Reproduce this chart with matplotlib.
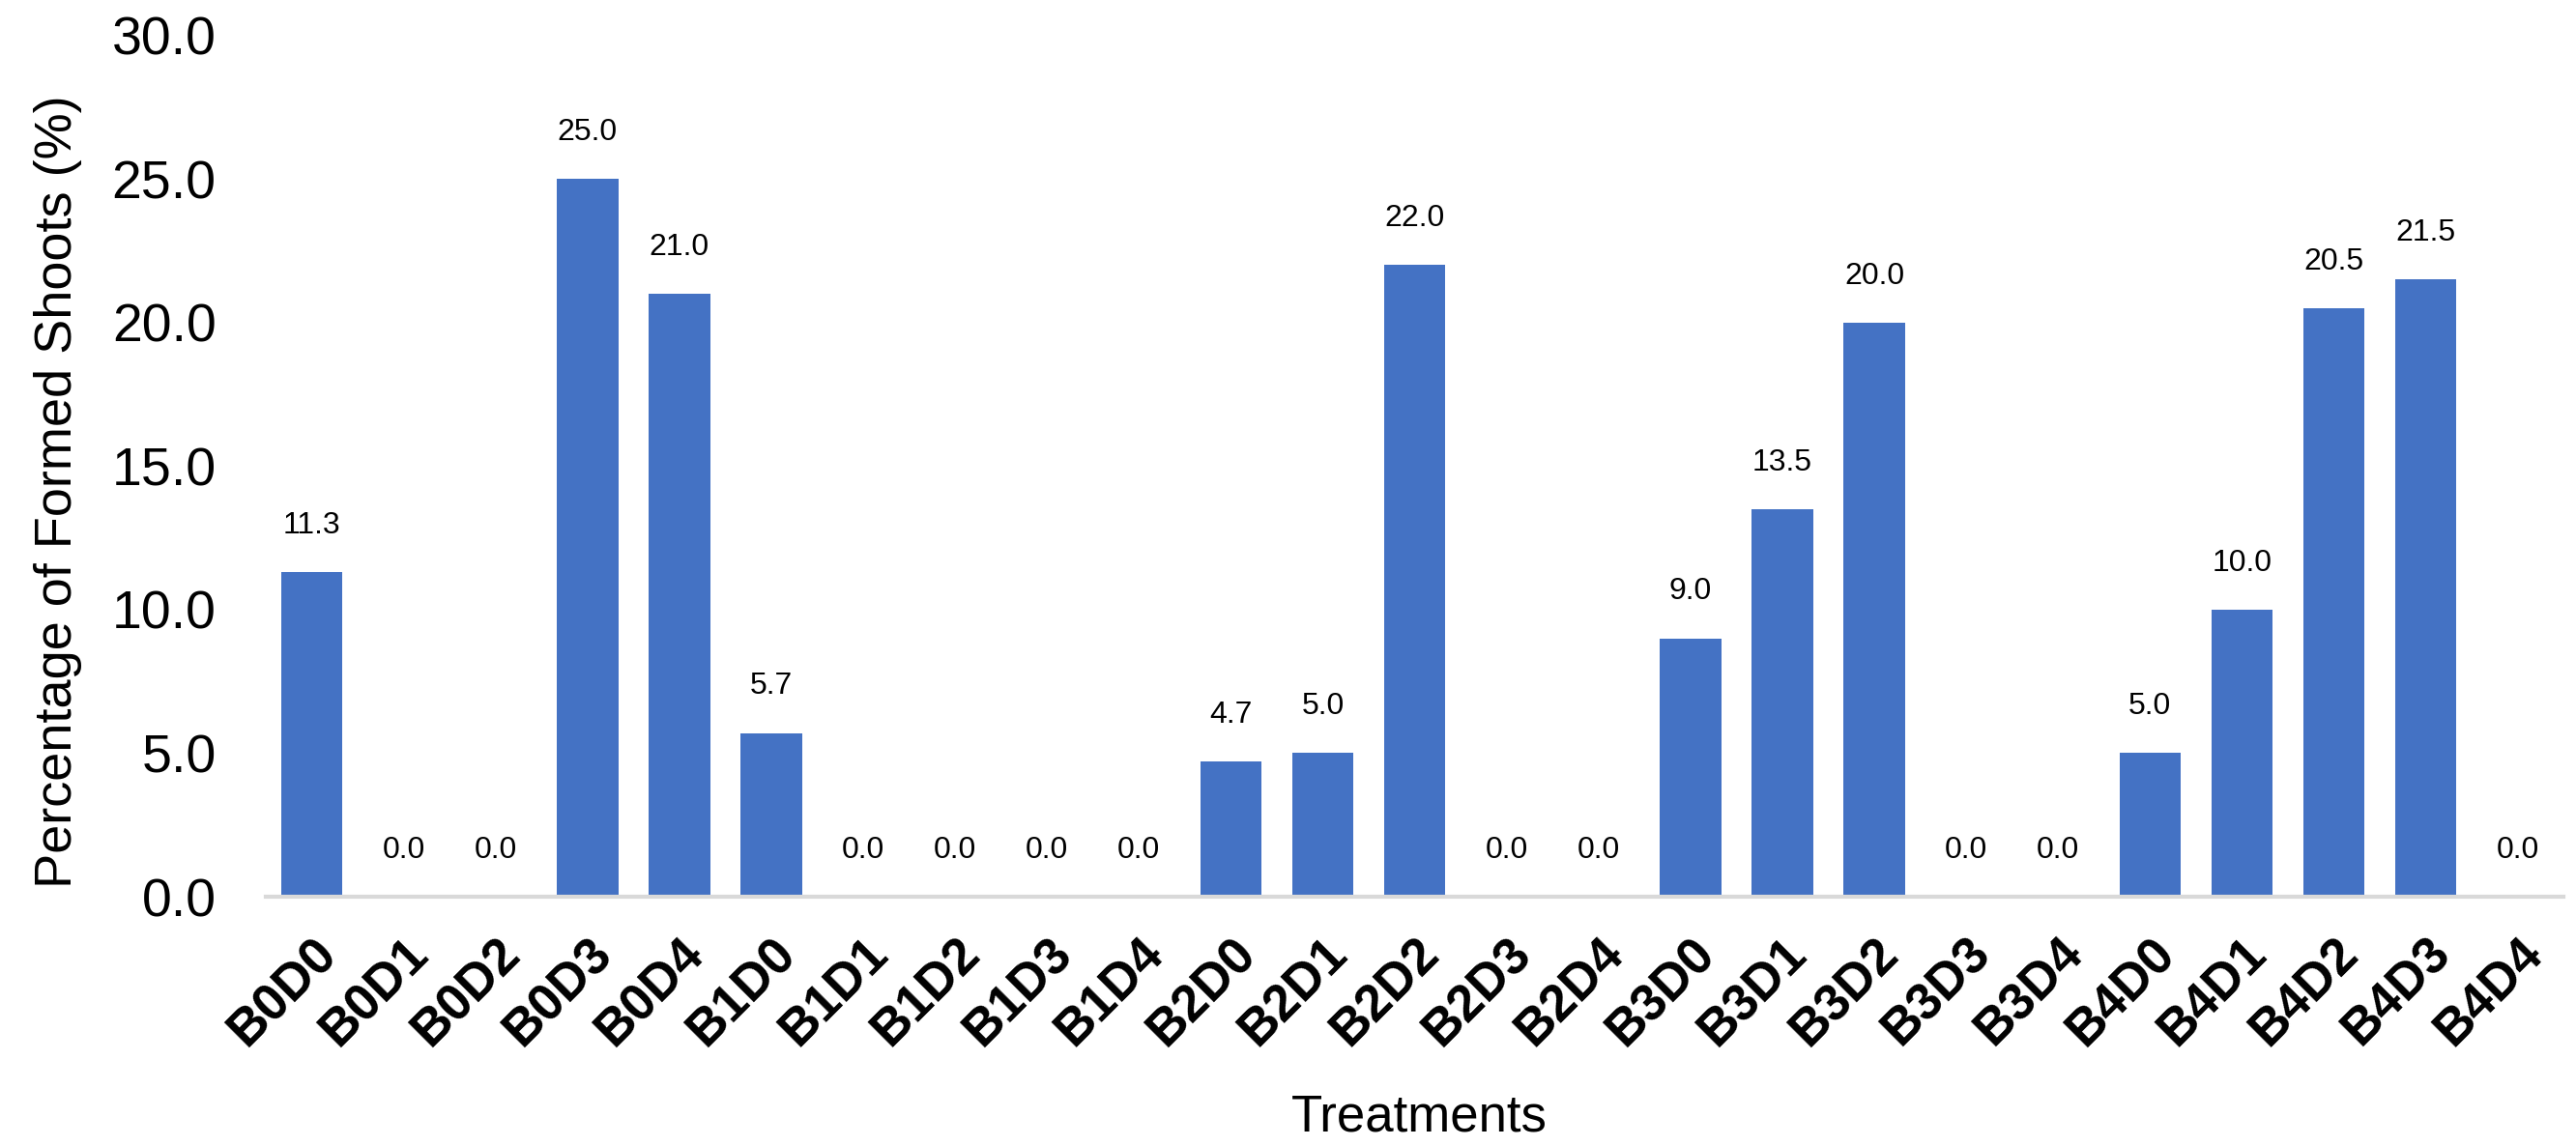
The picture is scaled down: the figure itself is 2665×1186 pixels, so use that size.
import numpy as np
import matplotlib.pyplot as plt

plt.rcParams['font.family'] = ['Liberation Sans', 'DejaVu Sans']

# treatments and values
treatments = ['B0D0', 'B0D1', 'B0D2', 'B0D3', 'B0D4',
              'B1D0', 'B1D1', 'B1D2', 'B1D3', 'B1D4',
              'B2D0', 'B2D1', 'B2D2', 'B2D3', 'B2D4',
              'B3D0', 'B3D1', 'B3D2', 'B3D3', 'B3D4',
              'B4D0', 'B4D1', 'B4D2', 'B4D3', 'B4D4']
shoots = [11.3, 0.0, 0.0, 25.0, 21.0,
          5.7, 0.0, 0.0, 0.0, 0.0,
          4.7, 5.0, 22.0, 0.0, 0.0,
          9.0, 13.5, 20.0, 0.0, 0.0,
          5.0, 10.0, 20.5, 21.5, 0.0]
yticks = [0, 5, 10, 15, 20, 25, 30]

fig = plt.figure(figsize=(26.65, 11.86), dpi=100)
ax = fig.add_axes([0.1032, 0.2175, 0.892, 0.7515])

x = np.arange(len(treatments))
bars = ax.bar(x, shoots, width=0.667, color='#4472C4')
ax.bar_label(bars, labels=['%.1f' % v for v in shoots], padding=24, fontsize=23)

ax.set_xlim(-0.5, len(treatments) - 0.5)
ax.set_ylim(0, 30)
ax.set_yticks(yticks)
ax.set_yticklabels(['%.1f' % t for t in yticks], fontsize=40)
ax.set_xticks(x)
ax.set_xticklabels(treatments, rotation=45, ha='right', va='top',
                   rotation_mode='anchor', fontsize=38, fontweight='bold')
ax.tick_params(axis='both', length=0)
ax.tick_params(axis='y', pad=37)
ax.tick_params(axis='x', pad=24)

for s in ['top', 'right', 'left']:
    ax.spines[s].set_visible(False)
ax.spines['bottom'].set_color('#D9D9D9')
ax.spines['bottom'].set_linewidth(3)

ax.set_ylabel('Percentage of Formed Shoots (%)', fontsize=39, va='center')
ax.yaxis.set_label_coords(-0.0905, 0.47)
ax.set_xlabel('Treatments', fontsize=38, va='center')
ax.xaxis.set_label_coords(0.502, -0.256)

fig.savefig('out.png', dpi=100)
